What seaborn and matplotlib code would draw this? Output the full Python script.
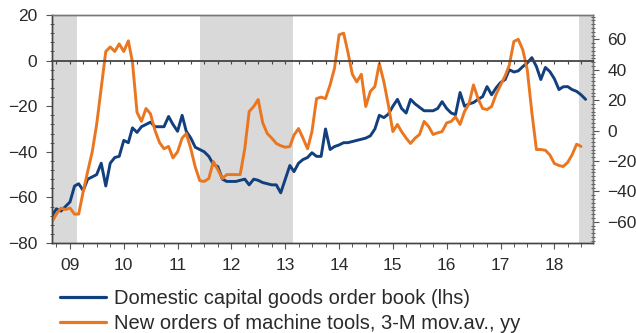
import numpy as np
import pandas as pd
import matplotlib
matplotlib.use("Agg")
import matplotlib.pyplot as plt
import matplotlib.dates as mdates
from matplotlib.ticker import MultipleLocator, NullFormatter
import seaborn as sns

# Monthly series, Sep 2008 onwards
order_book = [
    -68, -65, -66, -64, -62, -55, -54, -57, -52, -51,
    -50, -45, -55, -45, -42.5, -42, -35, -36, -29.5, -31.5,
    -29, -28, -27, -29, -29, -29, -24.5, -28, -31, -24,
    -31, -34, -38, -39, -40, -42, -45.5, -46.5, -52, -53,
    -53, -53, -52.5, -52, -54.5, -52, -52.5, -53.5, -54, -54.5,
    -54.5, -58, -52, -46, -48.7, -45, -43.4, -42.5, -40.4, -42,
    -42, -30, -39, -37.7, -37, -36, -36, -35.5, -35, -34.5,
    -34, -33, -30, -24, -25, -23.5, -20, -17, -21, -23,
    -17, -19, -20.5, -22, -22, -22, -21, -18, -21, -23,
    -23.7, -14, -20, -19, -18.4, -17, -15.8, -11.4, -15, -12,
    -9.6, -8.3, -4, -5, -4.5, -2.6, -1, 1.3, -2.6, -8.3,
    -3, -4.8, -8, -12.7, -11.5, -11.4, -12.7, -13.5, -15, -17,
]
machine_tools = [
    -60, -55, -51, -52, -51, -55, -55, -40, -27, -14,
    4, 28, 52, 55, 52, 57, 52, 59, 45, 12,
    6, 14.5, 11, 0, -8, -12, -10.5, -18, -14, -5,
    -2, -12, -24, -33, -33.5, -31.6, -20.4, -25.7, -31.6, -29,
    -29, -29, -29, -12, 12.5, 15.8, 20.4, 5, -2, -5,
    -8.5, -10, -11, -10.5, -3, 1.3, -5, -12, -0.7, 21,
    22, 21, 30, 41, 63, 64, 52, 37, 32, 37,
    15.8, 25.7, 29, 44, 32, 17, -0.7, 4, -0.7, -5,
    -8.5, -5, -2.6, 6, 2.6, -2.6, -1.5, -0.7, 5, 6,
    9, 4, 12.5, 17.8, 30, 21, 14.5, 13.8, 15.8, 23.7,
    30, 36, 43, 58.6, 60, 53, 40, 12, -12.5, -12.5,
    -13, -16, -21.7, -23, -23.7, -21, -16, -9, -10.5,
]
year_labels = ["09", "10", "11", "12", "13", "14", "15", "16", "17", "18"]
recessions = [("2008-03-01", "2009-02-15"), ("2011-06-01", "2013-02-24"), ("2018-06-15", "2018-12-31")]
label_blue = "Domestic capital goods order book (lhs)"
label_orange = "New orders of machine tools, 3-M mov.av., yy"

dates_blue = pd.date_range("2008-09-01", periods=len(order_book), freq="MS")
dates_orange = pd.date_range("2008-09-01", periods=len(machine_tools), freq="MS")
df_blue = pd.DataFrame({"date": dates_blue, "value": order_book})
df_orange = pd.DataFrame({"date": dates_orange, "value": machine_tools})

sns.set_style("ticks")
plt.rcParams["font.family"] = ["Liberation Sans", "DejaVu Sans"]

BLUE = "#123f7e"
ORANGE = "#ea7620"
SHADE = "#d9d9d9"
AXC = "#555555"
TXT = "#2a2a2a"
TICK_FS = 12.5
LEGEND_FS = 14.5

fig = plt.figure(figsize=(6.36, 3.33), dpi=100)
ax = fig.add_axes([52 / 636, 1 - 243 / 333, 541 / 636, 228 / 333])
ax2 = ax.twinx()

xmin, xmax = pd.Timestamp("2008-09-01"), pd.Timestamp("2018-09-20")

for start, end in recessions:
    ax.axvspan(pd.Timestamp(start), pd.Timestamp(end), color=SHADE, lw=0, zorder=0)

sns.lineplot(data=df_blue, x="date", y="value", ax=ax, color=BLUE, lw=2.1, legend=False)
sns.lineplot(data=df_orange, x="date", y="value", ax=ax2, color=ORANGE, lw=2.1, legend=False)

ax.set_xlim(xmin, xmax)
ax.set_ylim(-80, 20)
ax2.set_ylim(-74, 76)
ax.set_xlabel("")
ax.set_ylabel("")
ax2.set_ylabel("")

# Zero line with its own quarterly tick marks
ax3 = ax.twiny()
ax3.set_xlim(mdates.date2num(xmin), mdates.date2num(xmax))
for s in ["top", "left", "right"]:
    ax3.spines[s].set_visible(False)
ax3.spines["bottom"].set_position(("data", 0))
ax3.spines["bottom"].set_color("#444444")
ax3.spines["bottom"].set_linewidth(1.3)
ax3.xaxis.set_ticks_position("bottom")
ax3.xaxis.set_major_locator(mdates.MonthLocator(bymonth=[1, 4, 7, 10]))
ax3.xaxis.set_major_formatter(NullFormatter())
ax3.tick_params(axis="x", length=2.5, width=0.8, color="#444444", direction="out")
ax3.tick_params(axis="y", left=False, right=False, labelleft=False, labelright=False)

# x axis: yearly labels, quarterly ticks
ax.xaxis.set_minor_locator(mdates.MonthLocator(bymonth=[4, 7, 10]))
ax.set_xticks([pd.Timestamp(f"20{y}-01-01") for y in year_labels])
ax.set_xticklabels(year_labels)

ax.yaxis.set_major_locator(MultipleLocator(20))
ax.yaxis.set_minor_locator(MultipleLocator(4))
ax2.set_yticks([-60, -40, -20, 0, 20, 40, 60])
ax2.yaxis.set_minor_locator(MultipleLocator(2.5))

for a in (ax, ax2):
    a.tick_params(which="major", length=4.5, width=0.8, color=AXC, labelcolor=TXT,
                  labelsize=TICK_FS, pad=6)
    a.tick_params(axis="y", which="minor", length=3.5, width=0.7, color=AXC, direction="inout")
ax.tick_params(axis="x", which="minor", length=3, width=0.7, color=AXC)
ax.tick_params(axis="x", which="major", pad=6)

for a in (ax, ax2):
    for s in a.spines.values():
        s.set_color("#777777")
        s.set_linewidth(1.0)
    a.spines["left"].set_color("#444444")
    a.spines["bottom"].set_color("#444444")

handles = [
    plt.Line2D([], [], color=BLUE, lw=2.3),
    plt.Line2D([], [], color=ORANGE, lw=2.3),
]
fig.legend(handles, [label_blue, label_orange], loc="upper left",
           bbox_to_anchor=(60 / 636, 1 - 289 / 333), frameon=False,
           borderaxespad=0, borderpad=0, handlelength=2.3, handletextpad=0.4,
           labelspacing=0.28, fontsize=LEGEND_FS, labelcolor=TXT)

fig.savefig("out.png", dpi=100)
